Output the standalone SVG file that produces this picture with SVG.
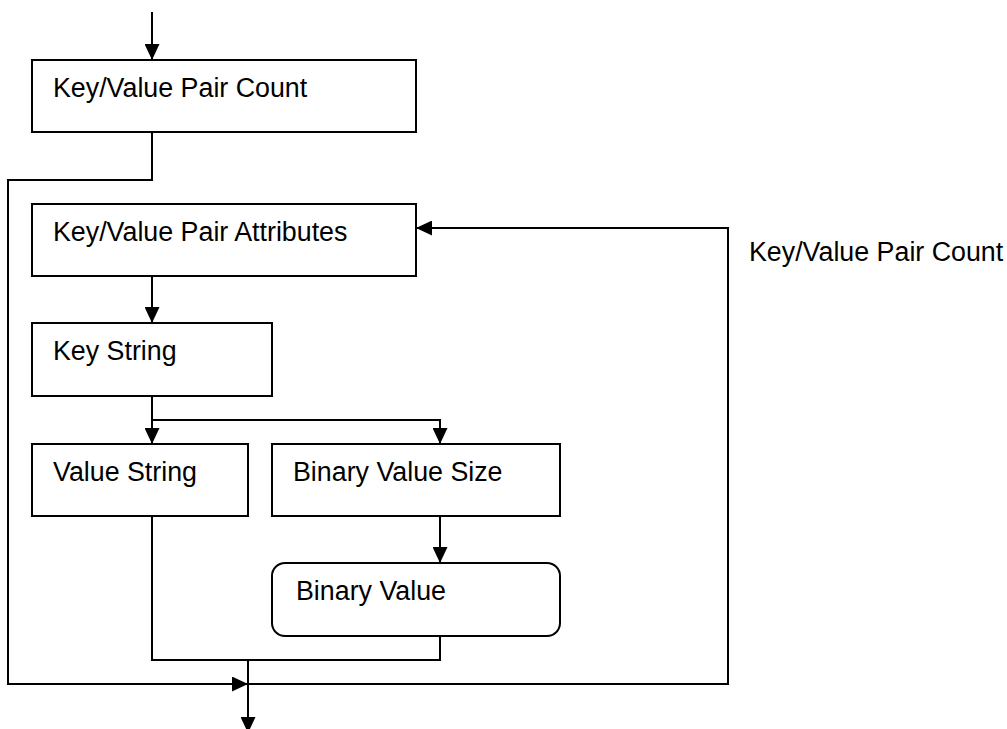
<svg xmlns="http://www.w3.org/2000/svg" width="1007" height="729" viewBox="0 0 1007 729">
<style>
.box{fill:#fff;stroke:#000;stroke-width:2}
.lbl{font-family:"Liberation Sans",Arial,sans-serif;font-size:26.8px;fill:#000}
.conn{fill:none;stroke:#000;stroke-width:2}
</style>
<defs>
<marker id="arr" markerUnits="userSpaceOnUse" markerWidth="16" markerHeight="15" refX="16" refY="7.5" orient="auto">
<path d="M0,0 L16,7.5 L0,15 z" fill="#000"/>
</marker>
</defs>
<rect width="1007" height="729" fill="#fff"/>
<g id="connectors">
<path class="conn" d="M152,12 L152,60" marker-end="url(#arr)"/>
<path class="conn" d="M152,132 L152,180 L8,180 L8,684 L248,684" marker-end="url(#arr)"/>
<path class="conn" d="M248,684 L728,684 L728,228 L416,228" marker-end="url(#arr)"/>
<path class="conn" d="M152,276 L152,323" marker-end="url(#arr)"/>
<path class="conn" d="M152,396 L152,444" marker-end="url(#arr)"/>
<path class="conn" d="M152,420 L440,420 L440,444" marker-end="url(#arr)"/>
<path class="conn" d="M440,516 L440,563" marker-end="url(#arr)"/>
<path class="conn" d="M152,516 L152,660 L440,660 L440,636"/>
<path class="conn" d="M248,660 L248,733" marker-end="url(#arr)"/>
</g>
<g id="node-kv-count">
<rect class="box" x="32" y="60" width="384" height="72"/>
<text class="lbl" x="53" y="97">Key/Value Pair Count</text>
</g>
<g id="node-kv-attributes">
<rect class="box" x="32" y="204" width="384" height="72"/>
<text class="lbl" x="53" y="241">Key/Value Pair Attributes</text>
</g>
<g id="node-key-string">
<rect class="box" x="32" y="323" width="240" height="73"/>
<text class="lbl" x="53" y="360">Key String</text>
</g>
<g id="node-value-string">
<rect class="box" x="32" y="444" width="216" height="72"/>
<text class="lbl" x="53" y="481">Value String</text>
</g>
<g id="node-binary-size">
<rect class="box" x="272" y="444" width="288" height="72"/>
<text class="lbl" x="293" y="481">Binary Value Size</text>
</g>
<g id="node-binary-value">
<rect class="box" x="272" y="563" width="288" height="73" rx="13" ry="13"/>
<text class="lbl" x="296" y="600">Binary Value</text>
</g>
<g id="loop-label">
<text class="lbl" x="749" y="261">Key/Value Pair Count</text>
</g>
</svg>
